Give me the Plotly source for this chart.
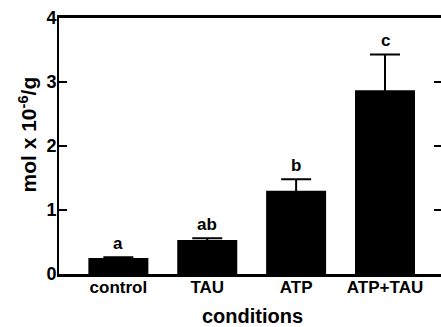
import plotly.graph_objects as go

# Data
conditions = ["control", "TAU", "ATP", "ATP+TAU"]
values = [0.25, 0.53, 1.30, 2.87]
errors = [0.01, 0.03, 0.18, 0.56]
letters = ["a", "ab", "b", "c"]
y_ticks = [0, 1, 2, 3, 4]

FONT = "Liberation Sans, Arial, sans-serif"
positions = list(range(len(conditions)))

fig = go.Figure()
fig.add_trace(go.Bar(
    x=positions,
    y=values,
    width=0.675,
    marker=dict(color="black", line=dict(width=0)),
    error_y=dict(type="data", array=errors, symmetric=True,
                 color="black", thickness=2, width=15),
    showlegend=False,
))

# significance letters above the error bars
for p, v, e, t in zip(positions, values, errors, letters):
    fig.add_annotation(x=p, y=v + e, text=f"<b>{t}</b>", showarrow=False,
                       yanchor="bottom", yshift=2,
                       font=dict(family=FONT, size=17, color="black"))

# axis titles
fig.add_annotation(xref="paper", yref="paper", x=-0.081, y=0.545,
                   text="<b>mol x 10<sup>-6</sup>/g</b>", textangle=-90,
                   showarrow=False, xanchor="center", yanchor="middle",
                   font=dict(family=FONT, size=21, color="black"))
fig.add_annotation(xref="paper", yref="paper", x=0.507, y=-0.165,
                   text="<b>conditions</b>", showarrow=False,
                   xanchor="center", yanchor="middle",
                   font=dict(family=FONT, size=20, color="black"))

fig.update_layout(
    width=441, height=327,
    margin=dict(l=59, r=0, t=18, b=53),
    paper_bgcolor="white", plot_bgcolor="white",
    xaxis=dict(range=[-0.668, 3.63], tickvals=positions,
               ticktext=[f"<b>{c}</b>" for c in conditions],
               ticks="", showgrid=False, zeroline=False,
               showline=True, mirror=True, linecolor="black", linewidth=3,
               ticklabelstandoff=-4,
               tickfont=dict(family=FONT, size=17, color="black")),
    yaxis=dict(range=[0, 4], tickvals=y_ticks,
               ticktext=[f"<b>{v}</b>" for v in y_ticks],
               ticks="inside", ticklen=8, tickwidth=2, tickcolor="black",
               showgrid=False, zeroline=False,
               showline=True, linecolor="black", linewidth=2,
               ticklabelstandoff=-3,
               tickfont=dict(family=FONT, size=18, color="black")),
    yaxis2=dict(overlaying="y", side="right", range=[0, 4], tickvals=[1, 2, 3],
                ticks="inside", ticklen=7, tickwidth=2, tickcolor="black",
                showticklabels=False, showline=False, showgrid=False,
                zeroline=False),
)
# invisible trace so the right-hand ticks are drawn
fig.add_trace(go.Scatter(x=[0], y=[0], yaxis="y2",
                         mode="markers", marker=dict(opacity=0),
                         showlegend=False, hoverinfo="skip"))

fig.write_html("out.html")
